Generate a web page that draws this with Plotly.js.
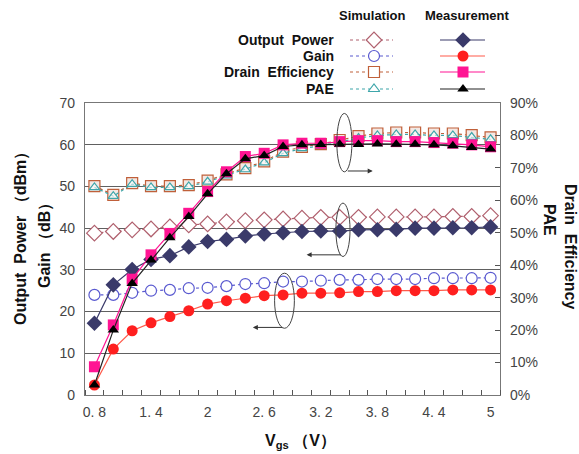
<!DOCTYPE html>
<html>
<head>
<meta charset="utf-8">
<script src="https://cdn.plot.ly/plotly-3.0.1.min.js"></script>
<style>html,body{margin:0;padding:0;background:#fff;}</style>
</head>
<body>
<div id="chart" style="width:579px;height:454px;"></div>
<script>
// ---- data (Vgs from 0.8 V to 5.0 V, 0.2 V step) ----
const vgs = [0.8,1.0,1.2,1.4,1.6,1.8,2.0,2.2,2.4,2.6,2.8,3.0,3.2,3.4,3.6,3.8,4.0,4.2,4.4,4.6,4.8,5.0];
const poutSim  = [38.8,39.2,39.6,39.8,40.3,40.8,41.0,41.5,41.8,42.0,42.2,42.4,42.6,42.6,42.6,42.7,42.7,42.7,42.7,42.8,42.8,43.0];
const poutMeas = [17.2,26.4,30.1,32.5,33.4,35.5,36.8,37.3,38.1,38.6,38.9,39.2,39.3,39.3,39.6,39.6,39.7,40.0,40.0,40.1,40.1,40.3];
const gainSim  = [24.0,24.0,24.5,25.0,25.2,25.6,25.7,26.1,26.6,26.8,27.2,27.2,27.4,27.6,27.6,27.8,27.8,27.8,28.0,28.0,28.0,28.1];
const gainMeas = [2.4,11.0,15.4,17.3,18.8,20.2,21.8,22.6,23.2,23.8,24.0,24.4,24.4,24.5,24.8,24.8,25.0,25.0,25.0,25.2,25.2,25.2];
const deSim    = [64.4,61.7,65.3,64.4,64.4,64.7,66.1,68.0,69.9,72.0,75.0,76.5,77.3,78.6,79.8,80.6,80.9,80.9,80.6,80.6,80.1,79.4];
const paeSim   = [64.0,61.3,65.0,64.0,64.0,64.3,65.7,67.6,69.5,71.6,74.5,76.0,76.8,78.0,79.2,80.0,80.3,80.3,80.0,80.0,79.5,78.8];
const deMeas   = [8.7,21.6,35.7,43.2,49.8,56.0,62.7,68.8,73.5,74.5,77.1,77.6,77.6,78.1,78.4,78.4,78.1,78.1,77.8,77.6,77.1,76.5];
const paeMeas  = [3.1,20.0,34.4,41.6,48.5,55.0,62.0,68.2,72.8,73.8,76.6,77.1,77.2,77.3,77.2,77.4,77.3,77.3,77.1,76.8,76.3,75.8];

const xTickVals = [0.8,1.4,2.0,2.6,3.2,3.8,4.4,5.0];
const xTickText = ['0. 8','1. 4','2','2. 6','3. 2','3. 8','4. 4','5'];
const legendRows = ['Output\u00a0\u00a0Power','Gain','Drain\u00a0\u00a0Efficiency','PAE'];

// ---- styles ----
const C = {
  poutSim:'#b0606e', poutMeas:'#3a3a6a',
  gainSim:'#5a5ad0', gainMeas:'#ff1f1f', gainMeasLine:'#ff5a4a',
  deSim:'#c0603a', deMeas:'#ff1493',
  paeSim:'#3ea6aa', paeMeas:'#000000'
};
const FONT = 'Liberation Sans, Arial, sans-serif';

function simTrace(y, color, symbol, yaxis, size, fill){
  return {x: vgs, y: y, yaxis: yaxis, type:'scatter', mode:'lines+markers', showlegend:false,
    line:{color:color, width:1.2, dash:'dot'},
    marker:{symbol:symbol, size:size, color:fill, line:{color:color, width:1.2}}};
}
function measTrace(y, color, lineColor, symbol, yaxis, size){
  return {x: vgs, y: y, yaxis: yaxis, type:'scatter', mode:'lines+markers', showlegend:false,
    line:{color:lineColor, width:1.2},
    marker:{symbol:symbol, size:size, color:color, line:{width:0}}};
}

const traces = [
  simTrace(poutSim, C.poutSim, 'diamond', 'y', 12, '#ffffff'),
  simTrace(gainSim, C.gainSim, 'circle', 'y', 11, '#ffffff'),
  measTrace(poutMeas, C.poutMeas, C.poutMeas, 'diamond', 'y', 12),
  measTrace(gainMeas, C.gainMeas, C.gainMeasLine, 'circle', 'y', 11),
  simTrace(deSim, C.deSim, 'square', 'y2', 11, '#f4e8e4'),
  simTrace(paeSim, C.paeSim, 'triangle-up', 'y2', 9, 'rgba(255,255,255,0.6)'),
  measTrace(deMeas, C.deMeas, C.deMeas, 'square', 'y2', 11),
  measTrace(paeMeas, C.paeMeas, '#222', 'triangle-up', 'y2', 10)
];

// ---- custom legend (overlay axes x3/y3 in pixel-like units) ----
const rowY = [40, 56, 72, 89];
const simKeys = [[C.poutSim,'diamond',12],[C.gainSim,'circle',11],[C.deSim,'square',11],[C.paeSim,'triangle-up',10]];
const measKeys = [[C.poutMeas,C.poutMeas,'diamond',12],[C.gainMeas,C.gainMeasLine,'circle',11],[C.deMeas,C.deMeas,'square',11],[C.paeMeas,'#222','triangle-up',10]];
rowY.forEach((ry,i)=>{
  const s = simKeys[i], m = measKeys[i];
  traces.push({x:[350,374,393], y:[ry,ry,ry], xaxis:'x3', yaxis:'y3', type:'scatter', mode:'lines+markers', showlegend:false, hoverinfo:'skip',
    line:{color:s[0], width:1.2, dash:'dot'},
    marker:{symbol:s[1], size:s[2], color:'#ffffff', opacity:[0,1,0], line:{color:s[0], width:1.2}}});
  traces.push({x:[440,463,485], y:[ry,ry,ry], xaxis:'x3', yaxis:'y3', type:'scatter', mode:'lines+markers', showlegend:false, hoverinfo:'skip',
    line:{color:m[1], width:1.2},
    marker:{symbol:m[2], size:m[3], color:m[0], opacity:[0,1,0], line:{width:0}}});
});

// pixel -> paper helpers (plot area: x 85..500, y 5..395)
const px = v => (v-85)/415;
const py = v => (395-v)/390;

const annotations = [
  {xref:'x3', yref:'y3', x:372, y:15, text:'<b>Simulation</b>', showarrow:false, font:{family:FONT,size:13,color:'#111'}},
  {xref:'x3', yref:'y3', x:467, y:15, text:'<b>Measurement</b>', showarrow:false, font:{family:FONT,size:13,color:'#111'}},
];
rowY.forEach((ry,i)=>{
  annotations.push({xref:'x3', yref:'y3', x:336, y:ry, xanchor:'right', yanchor:'middle', text:'<b>'+legendRows[i]+'</b>', showarrow:false, font:{family:FONT,size:14,color:'#111'}});
});
// axis titles
const T = {xref:'paper', yref:'paper', xanchor:'center', yanchor:'middle', showarrow:false, font:{family:FONT,size:16,color:'#111'}};
annotations.push(
  Object.assign({}, T, {x:px(21), y:py(235), text:'<b>Output\u00a0\u00a0Power\u00a0\uff08dBm\uff09</b>', textangle:-90}),
  Object.assign({}, T, {x:px(45), y:py(242), text:'<b>Gain\u00a0\uff08dB\uff09</b>', textangle:-90}),
  Object.assign({}, T, {x:px(571), y:py(246), text:'<b>Drain\u00a0\u00a0Efficiency</b>', textangle:90}),
  Object.assign({}, T, {x:px(550), y:py(220), text:'<b>PAE</b>', textangle:90}),
  Object.assign({}, T, {x:px(300), y:py(441), text:'<b>V<sub>gs</sub>\u00a0\uff08V\uff09</b>'})
);
// arrows
const arrowStyle = {text:'', showarrow:true, arrowhead:2, arrowsize:1, arrowwidth:1, arrowcolor:'#333', xref:'x', yref:'y', axref:'x', ayref:'y'};
annotations.push(
  Object.assign({}, arrowStyle, {x:3.75, y:53.7, ax:3.47, ay:53.7}),
  Object.assign({}, arrowStyle, {x:3.05, y:33.6, ax:3.43, ay:33.6}),
  Object.assign({}, arrowStyle, {x:2.48, y:16.2, ax:2.81, ay:16.2})
);

const ell = {type:'circle', xref:'x', yref:'y', line:{color:'#444', width:1}, fillcolor:'rgba(0,0,0,0)'};
const shapes = [
  Object.assign({}, ell, {x0:3.37, x1:3.53, y0:53.5, y1:67.5}),
  Object.assign({}, ell, {x0:3.36, x1:3.51, y0:33.2, y1:46.0}),
  Object.assign({}, ell, {x0:2.71, x1:2.92, y0:16.0, y1:29.2})
];

const mainDomain = [0, 292/390];
const layout = {
  width:579, height:454,
  margin:{l:85, r:79, t:5, b:59},
  paper_bgcolor:'#fff', plot_bgcolor:'#fff',
  showlegend:false,
  font:{family:FONT, size:14, color:'#444'},
  xaxis:{range:[0.7,5.1], tickvals:xTickVals, ticktext:xTickText, ticks:'', showgrid:false, zeroline:false,
    showline:true, mirror:true, linecolor:'#777', linewidth:1.2,
    minor:{tick0:0.9, dtick:0.2, ticks:'inside', ticklen:5, tickcolor:'#555', showgrid:false},
    tickfont:{family:FONT, size:14, color:'#444'}, ticklabelstandoff:4},
  yaxis:{domain:mainDomain, range:[0,70], dtick:10, ticks:'', showgrid:true, gridcolor:'#606060', gridwidth:1,
    zeroline:false, showline:true, linecolor:'#777', linewidth:1.2,
    tickfont:{family:FONT, size:14, color:'#444'}, ticklabelstandoff:6},
  yaxis2:{overlaying:'y', side:'right', range:[0,90], dtick:10, ticksuffix:'%', ticks:'inside', ticklen:5, tickcolor:'#555',
    showgrid:false, zeroline:false, showline:true, linecolor:'#777', linewidth:1.2,
    tickfont:{family:FONT, size:14, color:'#444'}, ticklabelstandoff:6},
  xaxis3:{domain:[0,1], anchor:'y3', range:[85,500], visible:false, fixedrange:true},
  yaxis3:{domain:[0.76,1], anchor:'x3', range:[395-0.76*390, 5], visible:false, fixedrange:true},
  annotations: annotations,
  shapes: shapes
};

Plotly.newPlot('chart', traces, layout, {staticPlot:true, displayModeBar:false});
</script>
</body>
</html>
